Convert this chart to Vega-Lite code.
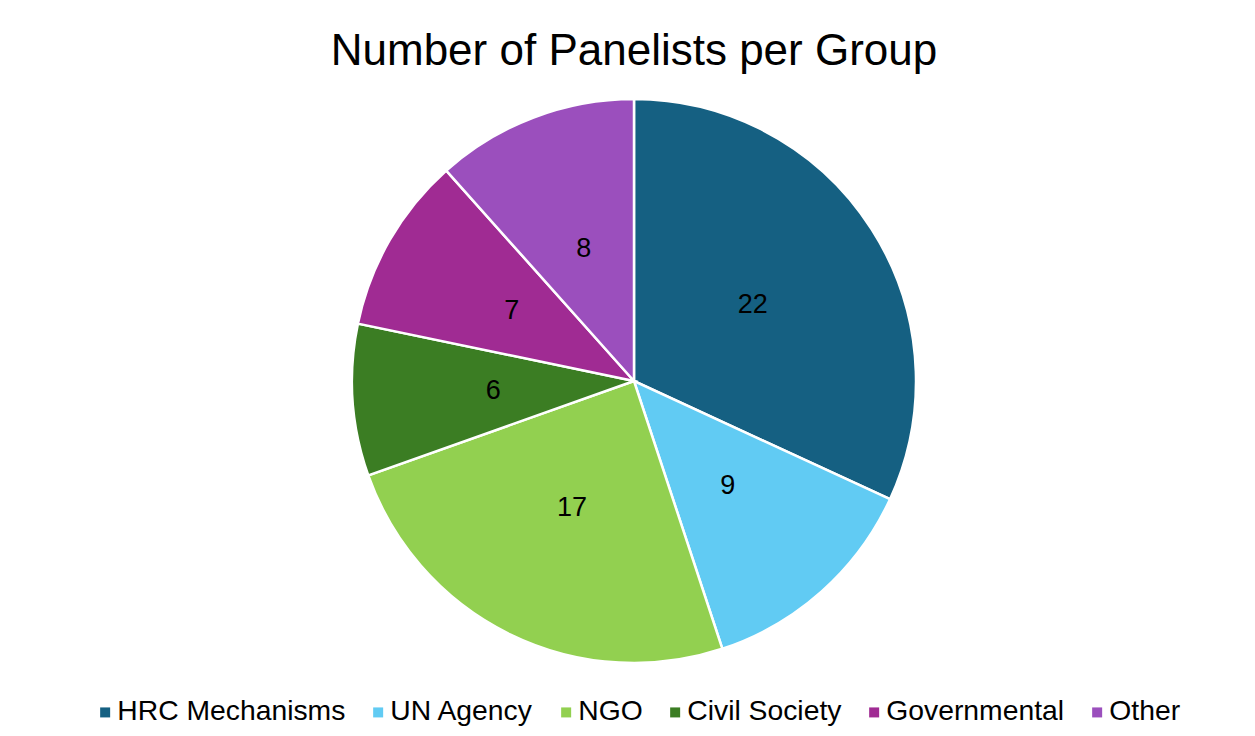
{
  "$schema": "https://vega.github.io/schema/vega-lite/v6.json",
  "width": 1242,
  "height": 582,
  "autosize": {"type": "none"},
  "padding": {"left": 13, "top": 90, "right": 0, "bottom": 64},
  "background": "white",
  "title": {
    "text": "Number of Panelists per Group",
    "font": "Liberation Sans",
    "fontSize": 44,
    "fontWeight": "normal",
    "color": "#000000",
    "anchor": "middle",
    "offset": 16
  },
  "data": {
    "values": [
      {"group": "HRC Mechanisms", "count": 22, "idx": 1},
      {"group": "UN Agency", "count": 9, "idx": 2},
      {"group": "NGO", "count": 17, "idx": 3},
      {"group": "Civil Society", "count": 6, "idx": 4},
      {"group": "Governmental", "count": 7, "idx": 5},
      {"group": "Other", "count": 8, "idx": 6}
    ]
  },
  "encoding": {
    "theta": {"field": "count", "type": "quantitative", "stack": true},
    "order": {"field": "idx", "type": "quantitative"},
    "color": {
      "field": "group",
      "type": "nominal",
      "scale": {
        "domain": ["HRC Mechanisms", "UN Agency", "NGO", "Civil Society", "Governmental", "Other"],
        "range": ["#156082", "#61CBF3", "#92D050", "#3B7D23", "#A02B93", "#9B4FBD"]
      },
      "legend": {
        "title": null,
        "orient": "none",
        "direction": "horizontal",
        "legendX": 78,
        "legendY": 608,
        "symbolType": "square",
        "symbolSize": 100,
        "symbolStrokeWidth": 0,
        "labelFont": "Liberation Sans",
        "labelFontSize": 28.3,
        "labelColor": "#000000",
        "labelOffset": -2,
        "columnPadding": 18,
        "padding": 0,
        "labelLimit": 400
      }
    }
  },
  "layer": [
    {
      "mark": {"type": "arc", "outerRadius": 282, "stroke": "white", "strokeWidth": 2.5}
    },
    {
      "mark": {"type": "text", "radius": 141, "font": "Liberation Sans", "fontSize": 27, "color": "#000000"},
      "encoding": {
        "text": {"field": "count", "type": "quantitative"},
        "color": {"value": "#000000"}
      }
    }
  ]
}
